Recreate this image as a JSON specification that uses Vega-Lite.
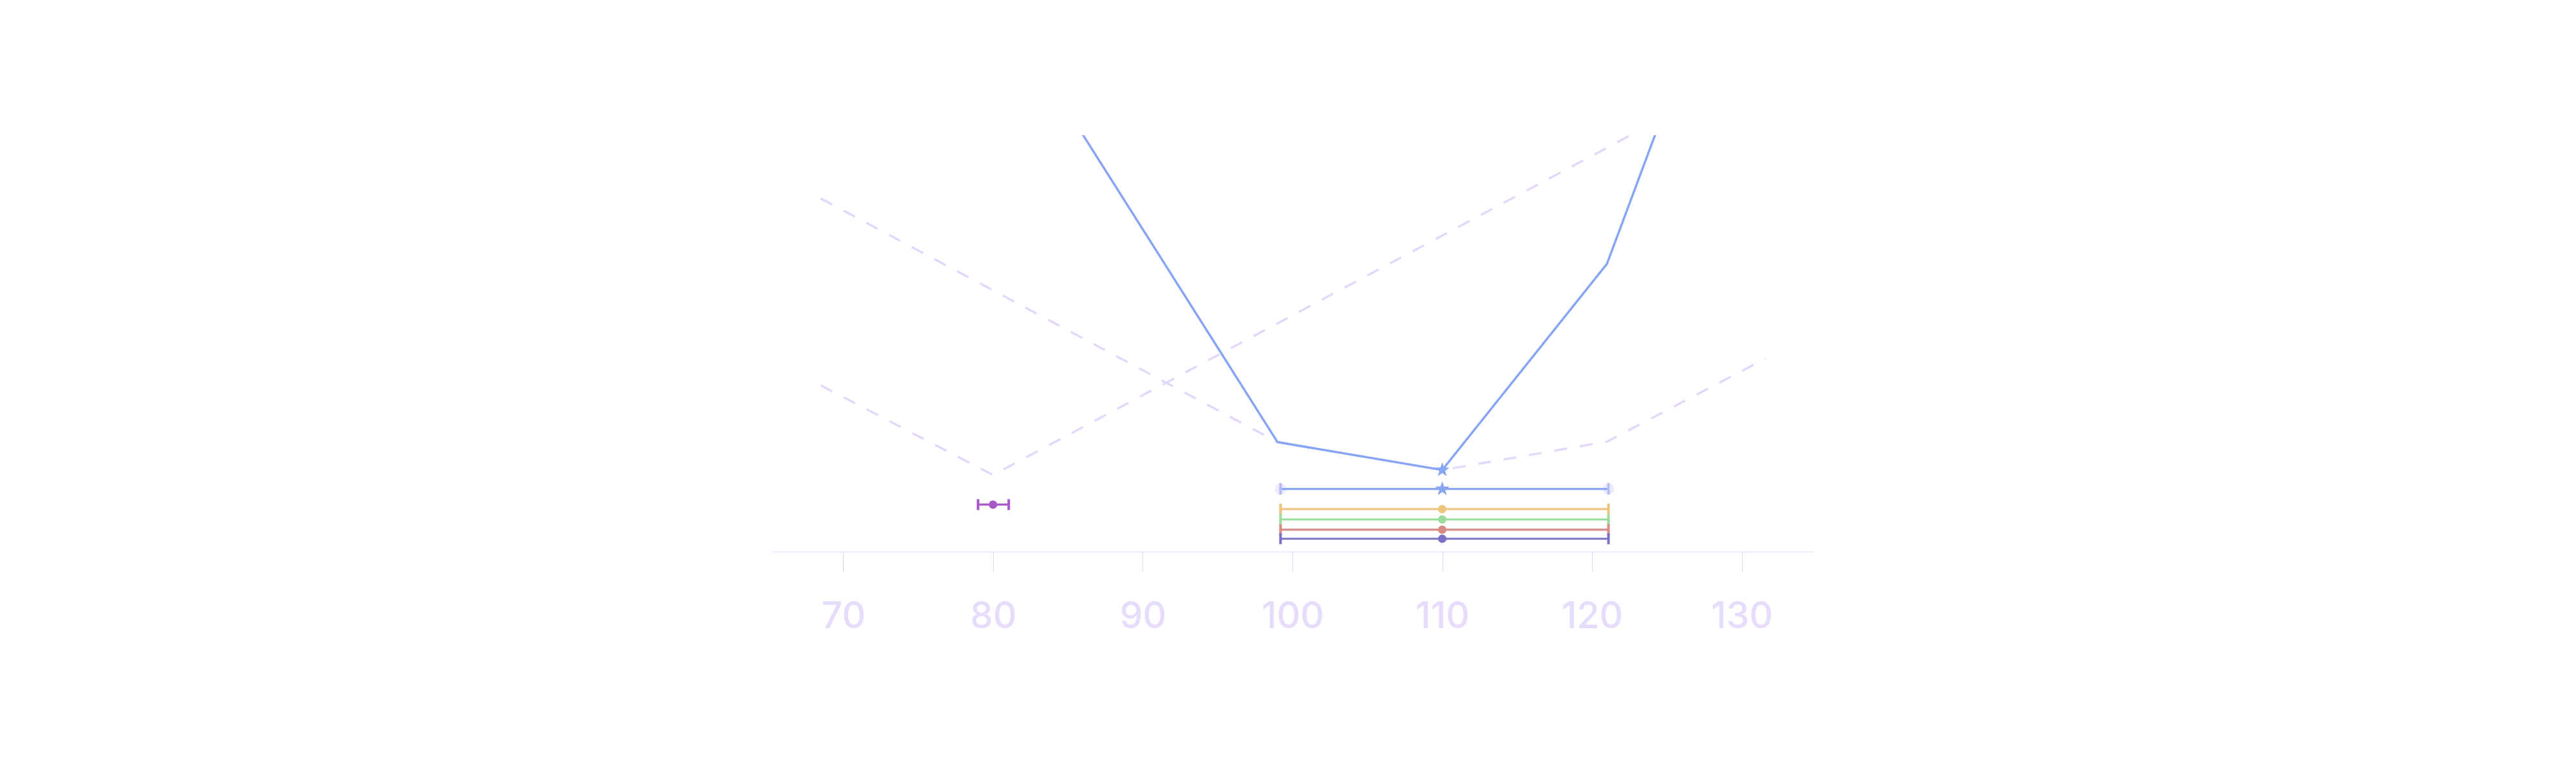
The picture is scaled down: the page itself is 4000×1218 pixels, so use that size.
{
  "$schema": "https://vega.github.io/schema/vega-lite/v6.json",
  "width": 1616,
  "height": 647,
  "padding": {"left": 1199, "top": 210, "right": 40, "bottom": 60},
  "background": "white",
  "config": {"view": {"stroke": null}, "font": "Inter"},
  "datasets": {
    "guides": [
      {"curve": "a", "x": 68.5, "y": 84.8},
      {"curve": "a", "x": 99, "y": 26.3},
      {"curve": "a", "x": 110, "y": 19.6},
      {"curve": "a", "x": 121, "y": 26.4},
      {"curve": "a", "x": 131.6, "y": 46.4},
      {"curve": "b", "x": 68.5, "y": 39.9},
      {"curve": "b", "x": 80, "y": 18.4},
      {"curve": "b", "x": 131.5, "y": 117.1}
    ],
    "profile": [
      {"x": 77, "y": 151.2},
      {"x": 99, "y": 26.3},
      {"x": 110, "y": 19.6},
      {"x": 121, "y": 69.1},
      {"x": 132, "y": 175.0}
    ],
    "best": [{"x": 110, "y": 19.6}],
    "intervals": [
      {"name": "s1", "lo": 99.2, "mid": 110, "hi": 121.1, "y": 15.06},
      {"name": "s2", "lo": 79.0, "mid": 80, "hi": 81.05, "y": 11.29},
      {"name": "s3", "lo": 99.2, "mid": 110, "hi": 121.1, "y": 10.21},
      {"name": "s4", "lo": 99.2, "mid": 110, "hi": 121.1, "y": 7.73},
      {"name": "s5", "lo": 99.2, "mid": 110, "hi": 121.1, "y": 5.26},
      {"name": "s6", "lo": 99.2, "mid": 110, "hi": 121.1, "y": 3.09}
    ]
  },
  "layer": [
    {
      "data": {"name": "guides"},
      "mark": {"type": "line", "clip": true, "color": "#e3d8fc", "strokeWidth": 3.5, "strokeDash": [20, 20]},
      "encoding": {
        "x": {
          "field": "x", "type": "quantitative",
          "scale": {"domain": [65.25, 134.75], "nice": false, "zero": false},
          "axis": {
            "title": null, "values": [70, 80, 90, 100, 110, 120, 130], "grid": false,
            "domainColor": "#efe8fd", "domainWidth": 2,
            "tickColor": "#ddd1fb", "tickWidth": 1, "tickSize": 30,
            "labelColor": "#e6dcfc", "labelFontSize": 57, "labelFont": "Inter", "labelFontWeight": 500, "labelPadding": 43
          }
        },
        "y": {"field": "y", "type": "quantitative", "scale": {"domain": [0, 100], "nice": false, "zero": false}, "axis": null},
        "detail": {"field": "curve"}
      }
    },
    {
      "data": {"name": "profile"},
      "mark": {"type": "line", "clip": true, "color": "#87a5f2", "strokeWidth": 3.5},
      "encoding": {
        "x": {"field": "x", "type": "quantitative"},
        "y": {"field": "y", "type": "quantitative"}
      }
    },
    {
      "data": {"name": "best"},
      "mark": {"type": "point", "filled": true, "opacity": 1, "color": "#87a5f2", "size": 560,
        "shape": "M0,-1L0.235,-0.324L0.951,-0.309L0.38,0.124L0.588,0.809L0,0.4L-0.588,0.809L-0.38,0.124L-0.951,-0.309L-0.235,-0.324Z"},
      "encoding": {
        "x": {"field": "x", "type": "quantitative"},
        "y": {"field": "y", "type": "quantitative"}
      }
    },
    {
      "data": {"name": "intervals"},
      "transform": [{"filter": "datum.name === 's1'"}, {"fold": ["lo", "hi"], "as": ["end", "pos"]}],
      "mark": {"type": "point", "shape": "circle", "filled": true, "opacity": 1, "color": "#efe9fd", "size": 314},
      "encoding": {
        "x": {"field": "pos", "type": "quantitative"},
        "y": {"field": "y", "type": "quantitative"}
      }
    },
    {
      "data": {"name": "intervals"},
      "mark": {"type": "rule", "strokeWidth": 3.2},
      "encoding": {
        "x": {"field": "lo", "type": "quantitative"},
        "x2": {"field": "hi"},
        "y": {"field": "y", "type": "quantitative"},
        "color": {
          "field": "name", "type": "nominal", "legend": null,
          "scale": {"domain": ["s1", "s2", "s3", "s4", "s5", "s6"],
                    "range": ["#87a5f2", "#a855c8", "#ecc47c", "#9adc9c", "#d88a84", "#7872c8"]}
        }
      }
    },
    {
      "data": {"name": "intervals"},
      "transform": [{"filter": "datum.name === 's1'"}, {"fold": ["lo", "hi"], "as": ["end", "pos"]}],
      "mark": {"type": "tick", "orient": "vertical", "color": "#b4bef6", "size": 18, "thickness": 4, "opacity": 1},
      "encoding": {
        "x": {"field": "pos", "type": "quantitative"},
        "y": {"field": "y", "type": "quantitative"}
      }
    },
    {
      "data": {"name": "intervals"},
      "transform": [{"filter": "datum.name !== 's1'"}, {"fold": ["lo", "hi"], "as": ["end", "pos"]}],
      "mark": {"type": "tick", "orient": "vertical", "size": 17, "thickness": 4, "opacity": 1},
      "encoding": {
        "x": {"field": "pos", "type": "quantitative"},
        "y": {"field": "y", "type": "quantitative"},
        "color": {"field": "name", "type": "nominal", "legend": null}
      }
    },
    {
      "data": {"name": "intervals"},
      "transform": [{"filter": "datum.name === 's1'"}],
      "mark": {"type": "point", "filled": true, "opacity": 1, "color": "#87a5f2", "size": 560,
        "shape": "M0,-1L0.235,-0.324L0.951,-0.309L0.38,0.124L0.588,0.809L0,0.4L-0.588,0.809L-0.38,0.124L-0.951,-0.309L-0.235,-0.324Z"},
      "encoding": {
        "x": {"field": "mid", "type": "quantitative"},
        "y": {"field": "y", "type": "quantitative"}
      }
    },
    {
      "data": {"name": "intervals"},
      "transform": [{"filter": "datum.name !== 's1'"}],
      "mark": {"type": "point", "shape": "circle", "filled": true, "opacity": 1, "size": 170},
      "encoding": {
        "x": {"field": "mid", "type": "quantitative"},
        "y": {"field": "y", "type": "quantitative"},
        "color": {"field": "name", "type": "nominal", "legend": null}
      }
    }
  ]
}
